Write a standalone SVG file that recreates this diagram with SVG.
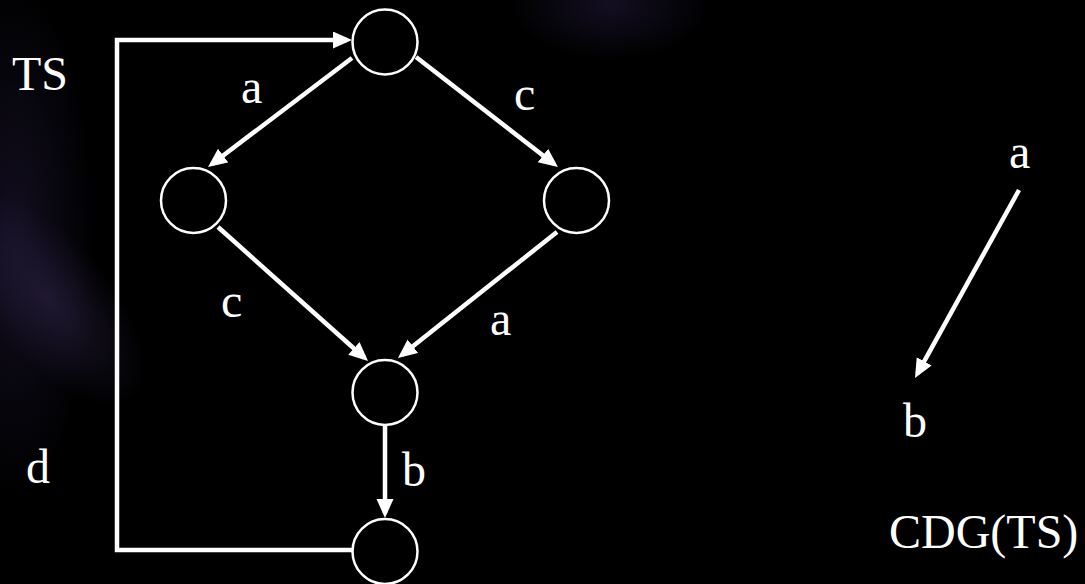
<svg xmlns="http://www.w3.org/2000/svg" width="1085" height="584" viewBox="0 0 1085 584">
<style>
.lbl{font-family:"Liberation Serif","Times New Roman",serif;font-size:48px;fill:#ffffff}
.node{fill:none;stroke:#ffffff;stroke-width:2.5}
.edge{fill:none;stroke:#ffffff;stroke-width:4.5}
</style>
<defs>
<marker id="ah" markerUnits="userSpaceOnUse" markerWidth="22" markerHeight="18" refX="14" refY="8.5" orient="auto">
<path d="M0,0 L19,8.5 L0,17 z" fill="#ffffff"/>
</marker>
<radialGradient id="g1" cx="0.5" cy="0.5" r="0.5">
<stop offset="0" stop-color="#241c38" stop-opacity="0.8"/>
<stop offset="1" stop-color="#241c38" stop-opacity="0"/>
</radialGradient>
<radialGradient id="g2" cx="0.5" cy="0.5" r="0.5">
<stop offset="0" stop-color="#18122a" stop-opacity="0.8"/>
<stop offset="1" stop-color="#18122a" stop-opacity="0"/>
</radialGradient>
</defs>
<rect width="1085" height="584" fill="#000000"/>
<ellipse cx="15" cy="240" rx="80" ry="260" fill="url(#g2)"/>
<ellipse cx="50" cy="300" rx="60" ry="130" transform="rotate(-40 50 300)" fill="url(#g1)"/>
<ellipse cx="610" cy="5" rx="100" ry="55" fill="url(#g2)"/>
<g id="connectors">
<line class="edge" x1="352" y1="58" x2="212" y2="164" marker-end="url(#ah)"/>
<line class="edge" x1="416" y1="57" x2="554" y2="164" marker-end="url(#ah)"/>
<line class="edge" x1="218" y1="227" x2="364.3" y2="357.7" marker-end="url(#ah)"/>
<line class="edge" x1="557" y1="232" x2="401.9" y2="354.9" marker-end="url(#ah)"/>
<line class="edge" x1="385" y1="425" x2="385" y2="513" marker-end="url(#ah)"/>
<polyline class="edge" points="353,550 117,550 117,40 347,40" marker-end="url(#ah)"/>
<line class="edge" x1="1019" y1="190" x2="917.4" y2="373.6" marker-end="url(#ah)"/>
</g>
<g id="n_top"><circle class="node" cx="385" cy="42" r="32.5"/></g>
<g id="n_left"><circle class="node" cx="193.5" cy="200.5" r="32.5"/></g>
<g id="n_right"><circle class="node" cx="576.5" cy="200.5" r="32.5"/></g>
<g id="n_mid"><circle class="node" cx="385" cy="392.5" r="32.5"/></g>
<g id="n_bot"><circle class="node" cx="385" cy="551.5" r="32.5"/></g>
<g id="labels">
<text class="lbl" x="12" y="90">TS</text>
<text class="lbl" x="241" y="103">a</text>
<text class="lbl" x="514" y="110">c</text>
<text class="lbl" x="221" y="317">c</text>
<text class="lbl" x="490" y="335">a</text>
<text class="lbl" x="26" y="483">d</text>
<text class="lbl" x="402" y="486">b</text>
<text class="lbl" x="1009" y="168">a</text>
<text class="lbl" x="903" y="437">b</text>
<text class="lbl" x="889" y="548">CDG(TS)</text>
</g>
</svg>
